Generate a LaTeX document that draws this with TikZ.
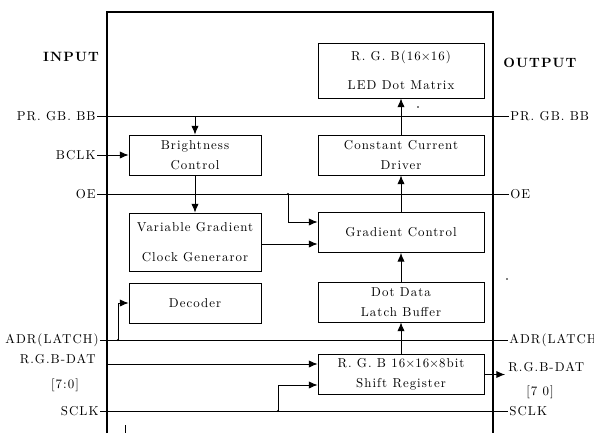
\documentclass[tikz,border=0pt]{standalone}
\usepackage{fontspec}
\setmainfont{lmroman10}[Extension=.otf, UprightFont=*-regular, BoldFont=*-bold, LetterSpace=8]
\usetikzlibrary{arrows.meta,positioning,calc}

\begin{document}
\begin{tikzpicture}[x=0.3mm,y=-0.3mm,
    font=\fontsize{11pt}{17pt}\selectfont,
    blk/.style={draw,line width=0.8pt,minimum width=39.6mm,minimum height=12mm,align=center,inner sep=1pt},
    wide/.style={minimum width=49.8mm},
    wire/.style={line width=0.8pt},
    arr/.style={line width=0.8pt,-{Latex[length=2.6mm,width=2.2mm]}},
    lbl/.style={inner sep=1pt},
    tap/.style={fill,circle,inner sep=0pt,minimum size=2pt}]
    \useasboundingbox (0,0) rectangle (594,433);

    % Chip outline
    \draw[line width=1.2pt] (107,433) -- (107,12) -- (493,12) -- (493,433);
    \node[font=\fontsize{11.5pt}{17pt}\bfseries] (input) at (71,57) {INPUT};
    \node[font=\fontsize{11.5pt}{17pt}\bfseries] (output) at (540,63) {OUTPUT};

    % Left column blocks
    \node[blk] (bright) at (195,155) {Brightness\\Control};
    \node[blk,minimum height=17.4mm] (vargen) at (195,242) {Variable Gradient\\[8pt]Clock Generaror};
    \node[blk] (dec) at (195,303) {Decoder};

    % Right column blocks
    \node[blk,wide,minimum height=16.5mm] (led) at (401,70.5) {R. G. B(16$\times$16)\\[8pt]LED Dot Matrix};
    \node[blk,wide] (ccd) at (401,155) {Constant Current\\Driver};
    \node[blk,wide] (grad) at (401,232.5) {Gradient Control};
    \node[blk,wide] (dot) at (401,302) {Dot Data\\Latch Buffer};
    \node[blk,wide] (shift) at (401,374.5) {R. G. B 16$\times$16$\times$8bit\\Shift Register};

    % Pin labels
    \node[lbl,anchor=east] (prIn) at (97,116) {PR. GB. BB};
    \node[lbl,anchor=west] (prOut) at (509,116) {PR. GB. BB};
    \node[lbl,anchor=east] (bclk) at (97,155) {BCLK};
    \node[lbl,anchor=east] (oeIn) at (97,194) {OE};
    \node[lbl,anchor=west] (oeOut) at (509,194) {OE};
    \node[lbl,anchor=east] (adrIn) at (100,340) {ADR(LATCH)};
    \node[lbl,anchor=west] (adrOut) at (508,340) {ADR(LATCH)};
    \node[lbl,anchor=east] (datIn) at (97,359) {R.G.B-DAT};
    \node[lbl] (busIn) at (65,385) {[7:0]};
    \node[lbl,anchor=east] (sclkIn) at (100,411) {SCLK};
    \node[lbl,anchor=west] (sclkOut) at (508,411) {SCLK};
    \node[lbl,anchor=west] (datOut) at (507,367) {R.G.B-DAT};
    \node[lbl] (busOut) at (540,392) {[7 0]};

    % Wires across the chip
    \draw[wire] (prIn) -- (prOut);
    \draw[wire] (oeIn) -- (oeOut);
    \draw[wire] (adrIn) -- (adrOut);
    \draw[wire] (sclkIn) -- (sclkOut);

    % Taps
    \coordinate (oeTap) at (288,194);
    \coordinate (adrTap) at (118,340);
    \coordinate (sclkTap) at (278,411);
    \coordinate (datStart) at (107,364);
    \coordinate (datEnd) at (505,374.5);
    \node[tap] at (oeTap) {};
    \node[tap] at (adrTap) {};
    \node[tap] at (sclkTap) {};

    % Signal flow
    \draw[arr] (bright.north |- prIn) -- (bright.north);
    \draw[arr] (bclk) -- (bright);
    \draw[arr] (bright) -- (vargen);
    \draw[arr] (adrTap) |- (dec.west);
    \draw[arr] (oeTap) |- ($(grad.west)+(0,-10.5)$);
    \draw[arr] ($(vargen.east)+(0,2)$) -- ($(grad.west)+(0,11.5)$);
    \draw[arr] (grad) -- (ccd);
    \draw[arr] (ccd) -- (led);
    \draw[arr] (dot) -- (grad);
    \draw[arr] (shift) -- (dot);
    \draw[arr] (datStart) -- (datStart -| shift.west);
    \draw[arr] (sclkTap) |- ($(shift.west)+(0,10.5)$);
    \draw[arr] (shift.east) -- (datEnd);

    % Specks
    \fill (418,107) circle (0.8pt);
    \fill (507,279) circle (0.8pt);
    \draw[line width=0.8pt] (125,425) -- (125,433);
\end{tikzpicture}
\end{document}
